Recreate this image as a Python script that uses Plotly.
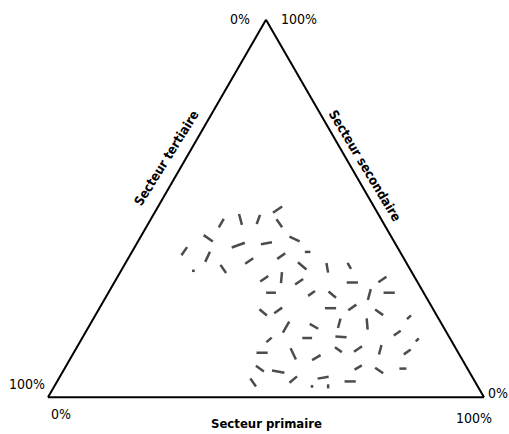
import plotly.graph_objects as go

# Ternary data (percent): secondaire (top), tertiaire (bottom-left), primaire (bottom-right)
secondaire = [49.7, 46.1, 47.1, 47.1, 46.1, 42.1, 40.3, 40.8, 41.9, 38.7,
              37.2, 38.5, 37.4, 36.1, 34.0, 33.5, 34.8, 34.3, 34.8, 31.4,
              31.7, 30.6, 30.4, 31.2, 27.7, 27.5, 27.2, 27.2, 27.7, 22.5,
              23.0, 23.6, 23.8, 22.5, 21.2, 18.6, 18.8, 19.6, 19.4, 17.0,
              15.2, 15.7, 16.0, 15.2, 11.8, 11.5, 10.5, 12.6, 12.8, 12.6,
              12.0, 7.6, 6.8, 7.9, 7.1, 7.6, 3.9, 4.7, 2.9, 5.2,
              2.9, 4.2]
primaire = [27.8, 16.7, 20.6, 24.7, 30.0, 15.7, 23.5, 29.7, 35.6, 11.9,
            18.0, 40.3, 34.8, 28.1, 23.2, 16.6, 40.9, 46.9, 51.7, 33.9,
            37.7, 42.3, 54.6, 61.1, 37.3, 46.7, 51.6, 60.1, 64.4, 38.1,
            41.3, 53.0, 57.9, 64.7, 72.2, 45.3, 51.6, 57.0, 63.5, 71.6,
            43.1, 51.6, 59.2, 77.1, 43.2, 50.5, 56.3, 60.3, 64.7, 69.9,
            76.4, 44.8, 49.4, 67.2, 72.4, 77.6, 45.1, 53.9, 59.1, 60.5,
            62.8, 67.2]
tertiaire = [round(100 - s - p, 1) for s, p in zip(secondaire, primaire)]

# Orientation of each dash (degrees, clockwise) and its length class
dash_angle = [-35, -60, 75, -70, 55, 35, -20, -10, 25, -55,
              -65, 0, -35, -35, 55, 0, 40, 80, 60, -35,
              -85, -35, 0, -35, 0, -35, 40, -75, 0, 40,
              -35, 0, -35, 35, -45, -60, 30, -75, 85, -35,
              -40, 0, 5, -45, 0, 65, -30, 35, -35, -75,
              -35, 35, 10, -30, 35, 0, 55, -40, 90, -10,
              90, 0]
dash_len = [8, 7, 8, 7, 7, 8, 10, 8, 8, 7,
            8, 4, 7, 7, 7, 2, 8, 7, 5, 7,
            8, 7, 8, 7, 7, 6, 7, 8, 8, 7,
            7, 8, 7, 7, 4, 9, 7, 7, 8, 6,
            5, 7, 8, 3, 8, 9, 7, 6, 7, 7,
            6, 7, 9, 6, 7, 5, 7, 7, 2, 8,
            3, 8]

fig = go.Figure()
fig.add_trace(go.Scatterternary(
    a=secondaire, b=tertiaire, c=primaire,
    mode="markers",
    marker=dict(symbol="line-ew", size=dash_len, angle=dash_angle,
                color="black", line=dict(color="black", width=2.5)),
    hoverinfo="skip", showlegend=False,
))

axis_style = dict(showgrid=False, showticklabels=False, ticks="",
                  linecolor="black", linewidth=2, title=dict(text=""))
fig.update_layout(
    width=509, height=434,
    margin=dict(l=48, r=25, t=19, b=36),
    paper_bgcolor="white",
    ternary=dict(sum=100, bgcolor="white",
                 aaxis=axis_style, baxis=axis_style, caxis=axis_style),
    font=dict(family="DejaVu Sans Condensed, DejaVu Sans", size=14, color="black"),
)

ann = [
    dict(x=240, y=19, text="0%"),
    dict(x=299, y=19, text="100%"),
    dict(x=27, y=384, text="100%"),
    dict(x=498, y=393, text="0%"),
    dict(x=61, y=414, text="0%"),
    dict(x=474, y=418, text="100%"),
    dict(x=266, y=423, text="<b>Secteur primaire</b>", font=dict(size=13)),
    dict(x=167, y=158, text="<b>Secteur tertiaire</b>", textangle=-58, font=dict(size=13)),
    dict(x=365, y=165, text="<b>Secteur secondaire</b>", textangle=59, font=dict(size=13)),
]
for a in ann:
    a.update(xref="paper", yref="paper", showarrow=False,
             xanchor="center", yanchor="middle")
    # convert pixel position to paper coords
    a["x"] = (a["x"] - 48) / (509 - 48 - 25)
    a["y"] = 1 - (a["y"] - 19) / (434 - 19 - 36)
    fig.add_annotation(**a)

fig.write_html("out.html", config={"displayModeBar": False},
               post_script="document.body.style.margin='0';")
